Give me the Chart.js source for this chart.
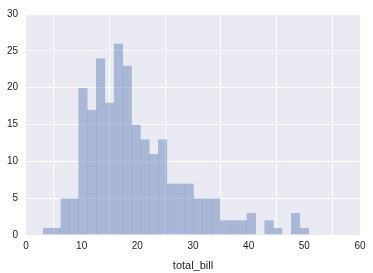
<!DOCTYPE html>
<html>
<head>
<meta charset="utf-8">
<script src="https://cdn.jsdelivr.net/npm/chart.js@4"></script>
<style>
  html, body { margin: 0; padding: 0; background: #fff; }
  #wrap { width: 373px; height: 273px; }
</style>
</head>
<body>
<div id="wrap"><canvas id="hist-chart" width="373" height="273"></canvas></div>
<script>
// histogram of total_bill, 30 bins
var binEdges = [3.07, 4.66, 6.25, 7.84, 9.44, 11.03, 12.62, 14.21, 15.80, 17.39,
  18.98, 20.58, 22.17, 23.76, 25.35, 26.94, 28.53, 30.12, 31.71, 33.30,
  34.90, 36.49, 38.08, 39.67, 41.26, 42.85, 44.44, 46.03, 47.63, 49.22, 50.81];
var binCounts = [1, 1, 5, 5, 20, 17, 24, 18, 26, 23,
  15, 13, 11, 13, 7, 7, 7, 5, 5, 5,
  2, 2, 2, 3, 0, 2, 1, 0, 3, 1];
var xTicks = [0, 10, 20, 30, 40, 50, 60];
var yTicks = [0, 5, 10, 15, 20, 25, 30];
var xLabel = 'total_bill';

var barData = [];
for (var i = 0; i < binCounts.length; i += 1) {
  barData.push({ x: (binEdges[i] + binEdges[i + 1]) / 2, y: binCounts[i] });
}

// seaborn darkgrid background behind the plot
var plotBg = {
  id: 'plotBg',
  beforeDraw: function (chart) {
    var a = chart.chartArea;
    var ctx = chart.ctx;
    ctx.save();
    ctx.fillStyle = '#EAEAF2';
    ctx.fillRect(a.left, a.top, a.right - a.left, a.bottom - a.top);
    ctx.restore();
  }
};

var tickFont = { family: 'Liberation Sans, Arial, sans-serif', size: 10 };

new Chart(document.getElementById('hist-chart'), {
  type: 'bar',
  data: {
    datasets: [{
      data: barData,
      backgroundColor: 'rgba(76,114,176,0.42)',
      borderColor: 'rgba(76,114,176,0.5)',
      borderWidth: 0.5,
      barPercentage: 1.06,
      categoryPercentage: 1
    }]
  },
  options: {
    responsive: false,
    animation: false,
    layout: { padding: { left: 0, right: 13, top: 12, bottom: 0 } },
    plugins: { legend: { display: false }, tooltip: { enabled: false } },
    scales: {
      x: {
        type: 'linear',
        offset: false,
        min: xTicks[0],
        max: xTicks[xTicks.length - 1],
        afterBuildTicks: function (scale) {
          scale.ticks = xTicks.map(function (v) { return { value: v }; });
        },
        afterFit: function (scale) { scale.height = 38; },
        grid: { color: '#ffffff', lineWidth: 1, drawTicks: false },
        border: { display: false },
        ticks: { color: '#262626', font: tickFont, padding: 5, maxRotation: 0 },
        title: {
          display: true,
          text: xLabel,
          color: '#262626',
          font: { family: 'Liberation Sans, Arial, sans-serif', size: 11 },
          padding: { top: 1, bottom: 0 }
        }
      },
      y: {
        min: yTicks[0],
        max: yTicks[yTicks.length - 1],
        afterBuildTicks: function (scale) {
          scale.ticks = yTicks.map(function (v) { return { value: v }; });
        },
        afterFit: function (scale) { scale.width = 26; },
        grid: { color: '#ffffff', lineWidth: 1, drawTicks: false },
        border: { display: false },
        ticks: { color: '#262626', font: tickFont, padding: 8 }
      }
    }
  },
  plugins: [plotBg]
});
</script>
</body>
</html>
